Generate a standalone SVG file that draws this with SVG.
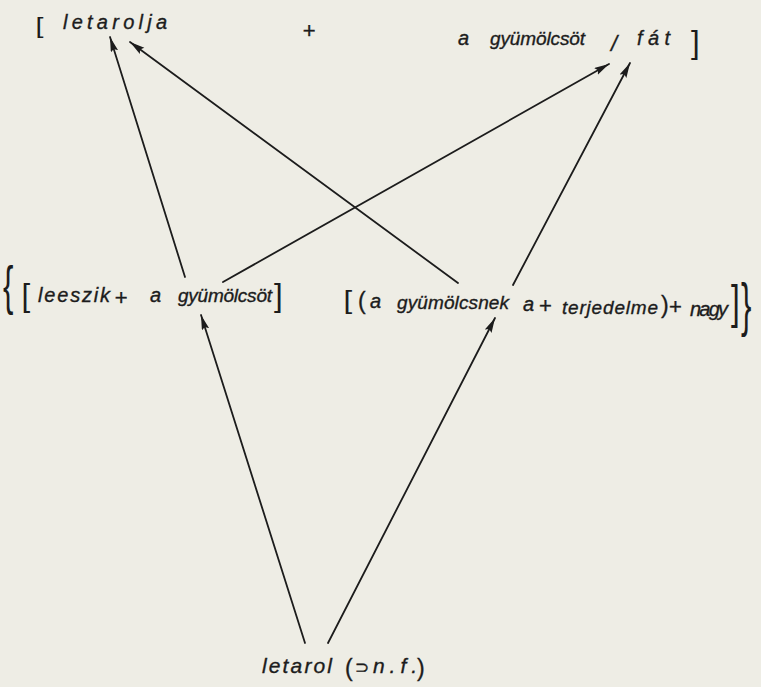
<svg xmlns="http://www.w3.org/2000/svg" width="761" height="687" viewBox="0 0 761 687">
<style>
.bg{fill:#eeede5}
.t{font-family:"Liberation Sans","DejaVu Sans",sans-serif;font-style:italic;fill:#1c1c1c;stroke:#1c1c1c;stroke-width:0.35}
.u{font-family:"Liberation Sans","DejaVu Sans",sans-serif;font-style:normal;fill:#1c1c1c}
.sym{font-family:"DejaVu Sans",sans-serif;font-style:normal;fill:#1c1c1c}
.c{fill:none;stroke:#1c1c1c;stroke-width:1.8;stroke-linecap:round;marker-end:url(#ah)}
</style>
<defs>
<marker id="ah" markerUnits="userSpaceOnUse" markerWidth="16" markerHeight="9" refX="15" refY="3.8" orient="auto">
<path d="M0,0 L15,3.8 L0,7.6 L2.5,3.8 z" fill="#1c1c1c"/>
</marker>
</defs>
<rect class="bg" x="0" y="0" width="761" height="687"/>

<g id="connectors">
<line class="c" x1="185" y1="277" x2="110" y2="37"/>
<line class="c" x1="223" y1="282" x2="609" y2="64"/>
<line class="c" x1="458" y1="283" x2="130" y2="42"/>
<line class="c" x1="513" y1="285" x2="630" y2="63"/>
<line class="c" x1="305" y1="643" x2="201" y2="315"/>
<line class="c" x1="328" y1="643" x2="495" y2="318"/>
</g>

<g id="node-top">
<text class="u" font-size="22" transform="translate(35.5,33.3) scale(1.3,1)">[</text>
<text class="t" font-size="20"><tspan x="63" y="29" textLength="104" lengthAdjust="spacing">letarolja</tspan> <tspan class="u" x="312" y="37.5" font-size="22" text-anchor="middle">+</tspan> <tspan x="458" y="45" font-size="20" textLength="12" lengthAdjust="spacing">a</tspan> <tspan x="490" y="45" font-size="19" textLength="95" lengthAdjust="spacing">gyümölcsöt</tspan> <tspan x="611" y="51" font-size="22">/</tspan> <tspan x="637" y="45" font-size="20" textLength="33" lengthAdjust="spacing">fát</tspan></text>
<text class="u" font-size="24" transform="translate(691,53.3) scale(1.3,1.33)">]</text>
</g>

<g id="node-left">
<text class="u" font-size="24" transform="translate(3,303.8) scale(1.3,2.22)">{</text>
<text class="u" font-size="24" transform="translate(21.5,306.3) scale(1.3,1.33)">[</text>
<text class="t" font-size="20"><tspan x="38" y="302" textLength="72" lengthAdjust="spacing">leeszik</tspan> <tspan class="u" x="124" y="305" font-size="22" text-anchor="middle">+</tspan> <tspan x="150" y="302" textLength="12" lengthAdjust="spacing">a</tspan> <tspan x="178" y="302" font-size="19" textLength="94" lengthAdjust="spacing">gyümölcsöt</tspan></text>
<text class="u" font-size="24" transform="translate(274,306.3) scale(1.3,1.33)">]</text>
</g>

<g id="node-right">
<text class="u" font-size="24" transform="translate(343.5,309.4) scale(1.3,1.11)">[</text>
<text class="t" font-size="19"><tspan class="u" x="358" y="309" font-size="23">(</tspan><tspan x="370" y="308" font-size="20" textLength="12" lengthAdjust="spacing">a</tspan> <tspan x="397" y="308.5" textLength="112" lengthAdjust="spacing">gyümölcsnek</tspan> <tspan x="523" y="310.5" font-size="20" textLength="12" lengthAdjust="spacing">a</tspan> <tspan class="u" x="548" y="313" font-size="22" text-anchor="middle">+</tspan> <tspan x="562" y="314" textLength="96" lengthAdjust="spacing">terjedelme</tspan><tspan class="u" x="661" y="312.5" font-size="23">)</tspan><tspan class="u" x="678" y="314" font-size="22" text-anchor="middle">+</tspan> <tspan x="690" y="316" font-size="20" textLength="38" lengthAdjust="spacing">nagy</tspan></text>
<text class="u" font-size="24" transform="translate(731,318.4) scale(1.3,1.91)">]</text>
<text class="u" font-size="24" transform="translate(741,324.7) scale(1.3,2.44)">}</text>
</g>

<g id="node-bottom">
<text class="t" font-size="21"><tspan x="262" y="673" textLength="70" lengthAdjust="spacing">letarol</tspan> <tspan class="u" x="345" y="675.5" font-size="23">(</tspan><tspan class="sym" x="355" y="673" font-size="17">⊃</tspan> <tspan x="373" y="673" textLength="44" lengthAdjust="spacing">n.f.</tspan><tspan class="u" x="417" y="675.5" font-size="23">)</tspan></text>
</g>
</svg>
